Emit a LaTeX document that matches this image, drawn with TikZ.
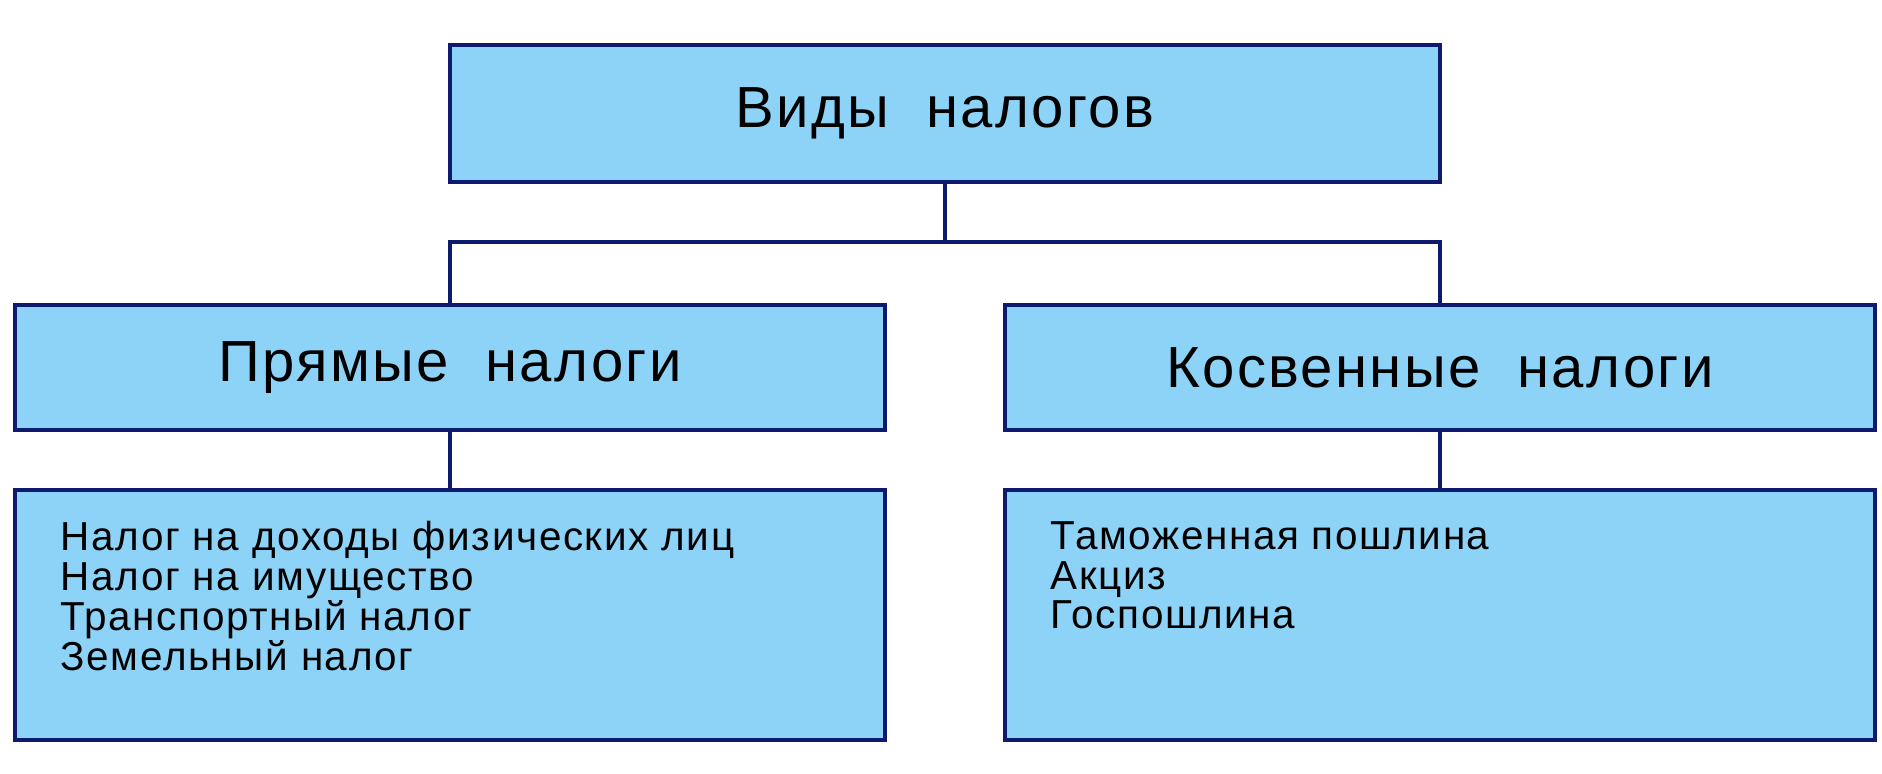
\documentclass[tikz,border=0pt]{standalone}
\usepackage{fontspec}
\setmainfont{Liberation Sans}[LetterSpace=4]
\begin{document}
\begin{tikzpicture}[x=0.01cm,y=-0.01cm,
  box/.style={draw=navy,line width=1.2pt,fill=sky,inner sep=0pt},
  con/.style={draw=navy,line width=1.2pt}]
\definecolor{navy}{HTML}{0E1A6E}
\definecolor{sky}{HTML}{8DD3F8}
\useasboundingbox[fill=white] (0,0) rectangle (1882,774);
\node[box,minimum width=990\pgflinewidth*0+9.9cm,minimum height=1.37cm,font=\fontsize{16.5}{20}\selectfont] (top) at (945,113.5) {Виды\ \ налогов};
\node[box,minimum width=8.7cm,minimum height=1.25cm,font=\fontsize{16.5}{20}\selectfont] (pl) at (450,367.5) {Прямые\ \ налоги};
\node[box,minimum width=8.7cm,minimum height=1.25cm,font=\fontsize{16.5}{20}\selectfont] (pr) at (1440,367.5) {Косвенные\ \ налоги};
\node[box,minimum width=8.7cm,minimum height=2.5cm] (bl) at (450,615) {};
\node[box,minimum width=8.7cm,minimum height=2.5cm] (br) at (1440,615) {};
\node[anchor=north west,align=left,inner sep=0pt,font=\fontsize{11.5}{11.3}\selectfont] (tl) at (60,521) {Налог\ на\ доходы\ физических\ лиц\\Налог\ на\ имущество\\Транспортный\ налог\\Земельный\ налог};
\node[anchor=north west,align=left,inner sep=0pt,font=\fontsize{11.5}{11.3}\selectfont] (tr) at (1050,521) {Таможенная\ пошлина\\Акциз\\Госпошлина};
\coordinate (j) at (945,242);
\draw[con] (top.south) -- (j) -| (pl.north);
\draw[con] (j) -| (pr.north);
\draw[con] (pl.south) -- (bl.north);
\draw[con] (pr.south) -- (br.north);
\end{tikzpicture}
\end{document}
